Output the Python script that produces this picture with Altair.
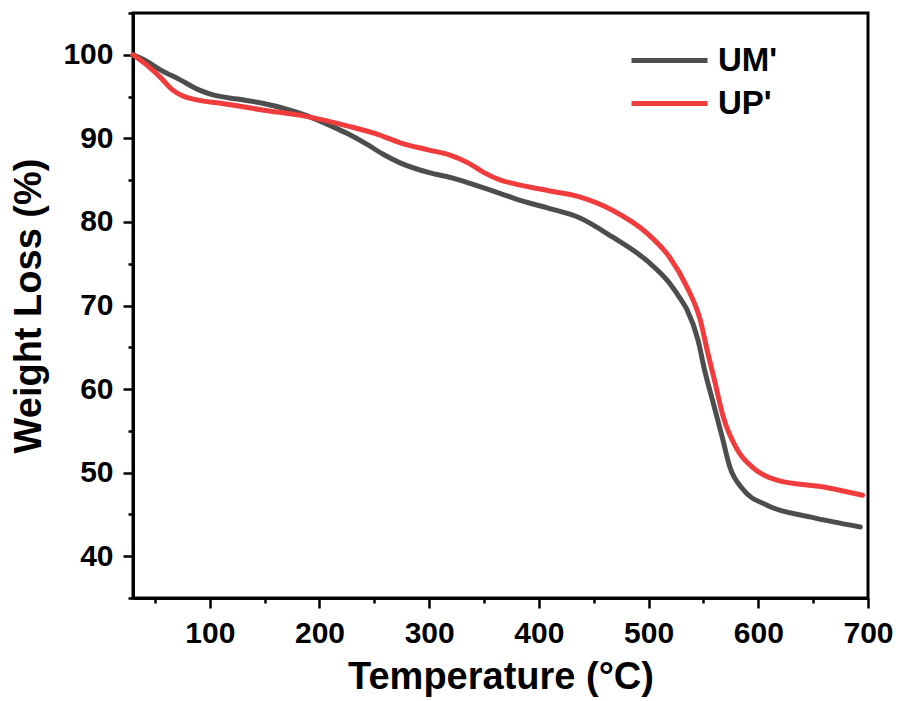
import altair as alt
import pandas as pd

# Thermogravimetric curves: temperature (°C) vs. remaining weight (%)
um_temp = [30, 40, 55, 73, 90, 103, 125, 148, 170, 189, 212, 225, 243, 258, 273,
           300, 320, 340, 365, 380, 407, 437, 467, 499, 519, 528, 535, 545, 551,
           559, 567, 574, 586, 608, 647, 693]
um_weight = [100.0, 99.4, 98.2, 97.0, 95.8, 95.2, 94.7, 94.2, 93.5, 92.7, 91.4,
             90.6, 89.3, 88.1, 87.1, 85.9, 85.3, 84.5, 83.4, 82.7, 81.7, 80.5,
             78.2, 75.3, 72.7, 71.0, 69.5, 65.9, 62.3, 58.3, 54.3, 50.7, 48.0,
             46.1, 44.7, 43.5]

up_temp = [30, 45, 55, 66, 75, 88, 110, 148, 189, 225, 255, 273, 300, 319, 335,
           350, 365, 380, 410, 437, 467, 499, 519, 535, 547, 554, 560, 568, 581,
           595, 617, 663, 695]
up_weight = [100.0, 98.5, 97.3, 95.8, 95.1, 94.6, 94.2, 93.4, 92.6, 91.5, 90.4,
             89.5, 88.6, 88.0, 87.1, 85.9, 85.0, 84.5, 83.7, 83.0, 81.4, 78.6,
             75.8, 72.2, 68.3, 64.3, 61.1, 56.7, 52.7, 50.6, 49.1, 48.2, 47.3]

series_names = ["UM'", "UP'"]
series_colors = ["#4d4d4d", "#f03c3c"]

x_ticks = list(range(50, 701, 50))
y_ticks = list(range(35, 106, 5))

df = pd.concat([
    pd.DataFrame({"series": series_names[0], "temp": um_temp, "weight": um_weight}),
    pd.DataFrame({"series": series_names[1], "temp": up_temp, "weight": up_weight}),
], ignore_index=True)

FONT = "Liberation Sans"

chart = alt.Chart(df).mark_line(
    strokeWidth=5, strokeCap="round", strokeJoin="round", interpolate="monotone"
).encode(
    x=alt.X(
        "temp:Q",
        scale=alt.Scale(domain=[30, 700], nice=False, zero=False),
        axis=alt.Axis(
            title="Temperature (°C)",
            values=x_ticks,
            labelExpr="datum.value % 100 === 0 ? datum.label : ''",
            tickSize={"condition": {"test": "datum.value % 100 === 0", "value": 10}, "value": 5},
            labelFlush=False,
            labelOverlap=False,
            labelPadding=10,
            titlePadding=10,
        ),
    ),
    y=alt.Y(
        "weight:Q",
        scale=alt.Scale(domain=[35, 105], nice=False, zero=False),
        axis=alt.Axis(
            title="Weight Loss (%)",
            values=y_ticks,
            labelExpr="datum.value % 10 === 0 ? datum.label : ''",
            tickSize={"condition": {"test": "datum.value % 10 === 0", "value": 10}, "value": 5},
            labelOverlap=False,
            labelPadding=10,
            titlePadding=14,
        ),
    ),
    color=alt.Color(
        "series:N",
        sort=series_names,
        scale=alt.Scale(domain=series_names, range=series_colors),
        legend=alt.Legend(
            title=None,
            orient="none",
            legendX=515,
            legendY=26,
            # wide horizontal stroke drawn inside a compact symbol box
            symbolType="M-2,0H2",
            symbolSize=1444,
            symbolStrokeWidth=5,
            labelFont=FONT,
            labelFontSize=33,
            labelFontWeight="bold",
            labelColor="black",
            labelOffset=27,
            rowPadding=4,
            padding=0,
        ),
    ),
).properties(
    width=735,
    height=585,
    background="white",
    padding={"left": 133, "top": 13, "right": 32, "bottom": 103},
    autosize=alt.AutoSizeParams(type="none"),
).configure_view(
    stroke="black", strokeWidth=3
).configure_axis(
    grid=False,
    domainColor="black",
    domainWidth=3,
    tickColor="black",
    tickWidth=2.5,
    labelFont=FONT,
    labelFontSize=30,
    labelFontWeight="bold",
    labelColor="black",
    titleFont=FONT,
    titleFontSize=38,
    titleFontWeight="bold",
    titleColor="black",
)

chart.save("out.html", embed_options={"renderer": "svg", "actions": False})
